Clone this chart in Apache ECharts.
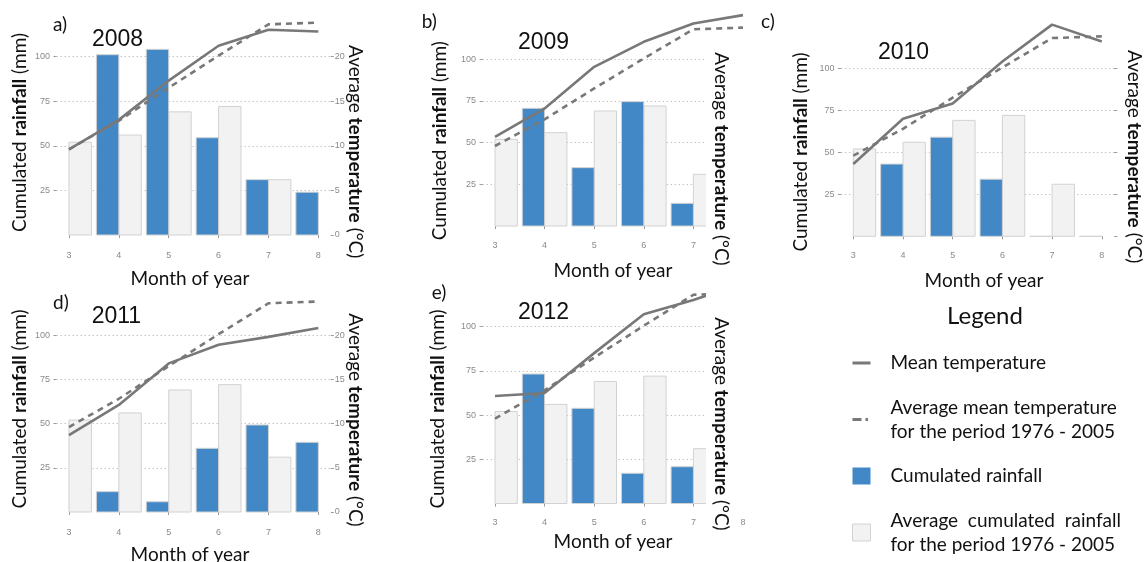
<!DOCTYPE html>
<html><head><meta charset="utf-8">
<script src="https://cdn.jsdelivr.net/npm/echarts@6/dist/echarts.min.js"></script>
<style>html,body{margin:0;padding:0;background:#fff}#c{width:1144px;height:562px}</style>
</head><body><div id="c"></div>
<script>
// ---------- data ----------
const months = [3, 4, 5, 6, 7, 8];
const rainTicks = [25, 50, 75, 100];
const tempTicks = [0, 5, 10, 15, 20];
const avgRain = [52, 56, 69, 72, 31, null];
const avgTemp = [9.6, 12.8, 16.5, 20.1, 23.6, 23.8];
const rain2008 = [null, 101, 104, 54.5, 31, 24];
const temp2008 = [9.6, 12.9, 17.3, 21.2, 23.0, 22.8];
const rain2009 = [null, 70.6, 35, 74.6, 13.6, null];
const temp2009 = [10.7, 14.1, 19.1, 22.1, 24.3, 25.3];
const rain2010 = [null, 43, 59, 34, 0, 0];
const temp2010 = [8.6, 14.0, 15.8, 20.8, 25.2, 23.2];
const rain2011 = [null, 11.5, 5.8, 36, 49.2, 39.4];
const temp2011 = [8.7, 12.1, 16.8, 18.9, 19.8, 20.8];
const rain2012 = [null, 73.2, 53.8, 17.1, 20.8, null];
const temp2012 = [12.15, 12.5, 17.0, 21.4, 23.0, 24.9];
const years = ['2008', '2009', '2010', '2011', '2012'];
const panelLabels = ['a)', 'b)', 'c)', 'd)', 'e)'];
const NAME_T = 'Mean temperature';
const NAME_AT = 'Average mean temperature\nfor the period 1976 - 2005';
const NAME_R = 'Cumulated rainfall';
const NAME_AR = 'Average  cumulated  rainfall\nfor the period 1976 - 2005';
const xTitle = 'Month of year';

// ---------- layout (pixels) ----------
const W = 1144, H = 562;
const panels = [
  { rain: rain2008, temp: temp2008, L: 56.5, R: 330.8, T: 13.6, B: 245.5, y0: 235, s: 1.785, rightAxis: 'full',
    lab: [53, 25], yr: [92, 40], lt: [20, 132.5], rt: [355.5, 151.7], xt: [190, 278.5] },
  { rain: rain2009, temp: temp2009, L: 482.6, R: 755.4, T: 5, B: 235.5, y0: 226, s: 1.667, rightAxis: 'none',
    lab: [421.7, 21.7], yr: [518, 43], lt: [440, 140.7], rt: [721, 159], xt: [613, 271],
    cover: [706, 38, 52, 224] },
  { rain: rain2010, temp: temp2010, L: 840.9, R: 1114.2, T: 14, B: 245, y0: 236.3, s: 1.68, rightAxis: 'ticks',
    lab: [761, 22], yr: [878, 53], lt: [800.5, 152], rt: [1134.5, 156.7], xt: [984, 281] },
  { rain: rain2011, temp: temp2011, L: 56.5, R: 330.8, T: 292, B: 522, y0: 512, s: 1.769, rightAxis: 'full',
    lab: [53, 303], yr: [91.7, 317], lt: [20, 409], rt: [355.5, 420], xt: [190, 555] },
  { rain: rain2012, temp: temp2012, L: 482.6, R: 755.4, T: 274, B: 512.5, y0: 503.5, s: 1.769, rightAxis: 'none',
    lab: [431.7, 293], yr: [518, 313], lt: [438, 409], rt: [721.5, 424], xt: [613, 541.5],
    cover: [706, 277, 52, 233] }
];

const BLUE = '#4288c6', GREYFILL = '#f2f2f2', EDGE = '#d2d2d2', LINE = '#787878';
const tickLabel = { fontSize: 9, color: '#8a8a8a', fontFamily: 'Liberation Sans' };
const FONT = 'Lato';

function barRenderer(o0, o1, fill) {
  return function (params, api) {
    const m = api.value(0), v = api.value(1);
    const p0 = api.coord([m + o0, v]);
    const p1 = api.coord([m + o1, 0]);
    const cs = params.coordSys;
    const shape = echarts.graphic.clipRectByRect(
      { x: p0[0], y: p0[1], width: p1[0] - p0[0], height: p1[1] - p0[1] },
      { x: cs.x, y: cs.y, width: cs.width, height: cs.height });
    if (!shape) return null;
    return { type: 'rect', shape: shape, style: { fill: fill, stroke: EDGE, lineWidth: 1 } };
  };
}
const pairs = (arr) => months.map((m, i) => [m, arr[i]]).filter(d => d[1] !== null);

const grid = [], xAxis = [], yAxis = [], series = [], graphic = [];
panels.forEach((p, i) => {
  const lo = (p.y0 - p.B) / p.s, hi = (p.y0 - p.T) / p.s;
  grid[i] = { left: p.L, right: W - p.R, top: p.T, bottom: H - p.B, containLabel: false, outerBoundsMode: 'none' };
  grid[5 + i] = { left: p.L, right: W - p.R, top: p.y0 - 100 * p.s, bottom: H - p.y0, containLabel: false, outerBoundsMode: 'none' };
  xAxis[i] = {
    gridIndex: i, type: 'value', min: 2.75, max: 8.25,
    axisLine: { show: false }, splitLine: { show: false },
    axisTick: { show: true, length: 3, customValues: months, lineStyle: { color: '#9a9a9a' } },
    axisLabel: Object.assign({ customValues: months, margin: 6 }, tickLabel)
  };
  xAxis[5 + i] = { gridIndex: 5 + i, type: 'value', min: 2.75, max: 8.25, show: false };
  yAxis[3 * i] = {
    gridIndex: i, type: 'value', position: 'left', min: lo, max: hi,
    axisLine: { show: false }, splitLine: { show: false },
    axisTick: { show: true, length: 3, customValues: rainTicks, lineStyle: { color: '#9a9a9a' } },
    axisLabel: Object.assign({ customValues: rainTicks, margin: 6.5 }, tickLabel)
  };
  yAxis[3 * i + 1] = {
    gridIndex: i, type: 'value', position: 'right', min: lo / 5, max: hi / 5,
    show: p.rightAxis !== 'none',
    axisLine: { show: false }, splitLine: { show: false },
    axisTick: { show: true, length: 3, customValues: tempTicks, lineStyle: { color: '#9a9a9a' } },
    axisLabel: Object.assign({ show: p.rightAxis === 'full', customValues: tempTicks, margin: 4 }, tickLabel)
  };
  yAxis[3 * i + 2] = {
    gridIndex: 5 + i, type: 'value', min: 0, max: 100, interval: 25,
    axisLine: { show: false }, axisTick: { show: false }, axisLabel: { show: false },
    splitLine: { show: true, showMinLine: false, lineStyle: { type: [1.5, 2.5], color: '#c4c4c4', width: 1 } }
  };
  series.push({
    name: NAME_AR, type: 'custom', xAxisIndex: i, yAxisIndex: 3 * i, z: 2,
    renderItem: barRenderer(0, 0.45, GREYFILL), encode: { x: 0, y: 1 },
    itemStyle: { color: GREYFILL }, data: pairs(avgRain)
  });
  series.push({
    name: NAME_R, type: 'custom', xAxisIndex: i, yAxisIndex: 3 * i, z: 2,
    renderItem: barRenderer(-0.45, 0, BLUE), encode: { x: 0, y: 1 },
    itemStyle: { color: BLUE }, data: pairs(p.rain)
  });
  series.push({
    name: NAME_AT, type: 'line', xAxisIndex: i, yAxisIndex: 3 * i + 1, z: 3,
    symbol: 'none', showSymbol: false, silent: true,
    lineStyle: { color: LINE, width: 2.6, type: [6, 5] }, itemStyle: { color: LINE },
    data: pairs(avgTemp)
  });
  series.push({
    name: NAME_T, type: 'line', xAxisIndex: i, yAxisIndex: 3 * i + 1, z: 3,
    symbol: 'none', showSymbol: false, silent: true,
    lineStyle: { color: LINE, width: 2.6, type: 'solid' }, itemStyle: { color: LINE },
    data: pairs(p.temp)
  });

  // texts
  if (p.cover) {
    graphic.push({ type: 'rect', z: 50, shape: { x: p.cover[0], y: p.cover[1], width: p.cover[2], height: p.cover[3] },
      style: { fill: '#ffffff' } });
  }
  graphic.push({ type: 'text', z: 60, x: p.lab[0], y: p.lab[1],
    style: { text: panelLabels[i], fontFamily: FONT, fontSize: 19, fill: '#111', align: 'left', verticalAlign: 'middle' } });
  graphic.push({ type: 'text', z: 60, x: p.yr[0], y: p.yr[1],
    style: { text: years[i], fontFamily: 'Liberation Sans', fontSize: 23, fill: '#111', align: 'left', verticalAlign: 'middle' } });
  graphic.push({ type: 'text', z: 60, x: p.lt[0], y: p.lt[1], rotation: Math.PI / 2,
    style: { text: '{n|Cumulated }{b|rainfall}{n| (mm)}', align: 'center', verticalAlign: 'middle',
      rich: { n: { fontFamily: FONT, fontSize: 19, fill: '#111' }, b: { fontFamily: FONT, fontSize: 19, fontWeight: 'bold', fill: '#111' } } } });
  graphic.push({ type: 'text', z: 60, x: p.rt[0], y: p.rt[1], rotation: -Math.PI / 2,
    style: { text: '{n|Average }{b|temperature}{n| (°C)}', align: 'center', verticalAlign: 'middle',
      rich: { n: { fontFamily: FONT, fontSize: 19, fill: '#111' }, b: { fontFamily: FONT, fontSize: 19, fontWeight: 'bold', fill: '#111' } } } });
  graphic.push({ type: 'text', z: 60, x: p.xt[0], y: p.xt[1],
    style: { text: xTitle, fontFamily: FONT, fontSize: 19, fill: '#111', align: 'center', verticalAlign: 'middle' } });
});

graphic.push({ type: 'text', z: 60, x: 985, y: 316,
  style: { text: 'Legend', fontFamily: FONT, fontSize: 24, fill: '#111', align: 'center', verticalAlign: 'middle' } });

// legend key shapes (18 x 17 boxes; tiny corner marks fix the box size)
const KEY_SOLID = 'path://M0,0L0.01,0L0,0.01ZM18,17L17.99,17L18,16.99ZM0,7H18V10H0Z';
const KEY_DASH = 'path://M0,0L0.01,0L0,0.01ZM18,17L17.99,17L18,16.99ZM0,7H9V10H0ZM13,7H15.5V10H13Z';

const option = {
  animation: false,
  backgroundColor: '#ffffff',
  grid: grid, xAxis: xAxis, yAxis: yAxis, series: series, graphic: graphic,
  legend: {
    orient: 'vertical', left: 852, top: 351, height: 320, padding: 0,
    itemWidth: 18, itemHeight: 17, itemGap: 20.5,
    selectedMode: false,
    textStyle: { fontFamily: FONT, fontSize: 19, lineHeight: 24, color: '#111', padding: [0, 0, 0, 15] },
    data: [
      { name: NAME_T, icon: KEY_SOLID, itemStyle: { color: LINE, borderWidth: 0 } },
      { name: NAME_AT, icon: KEY_DASH, itemStyle: { color: LINE, borderWidth: 0 } },
      { name: NAME_R, icon: 'rect', itemStyle: { color: BLUE, borderWidth: 0 } },
      { name: NAME_AR, icon: 'rect', itemStyle: { color: GREYFILL, borderColor: EDGE, borderWidth: 1 } }
    ]
  }
};
const chart = echarts.init(document.getElementById('c'), null, { renderer: 'canvas' });
chart.setOption(option);
</script>
</body></html>
